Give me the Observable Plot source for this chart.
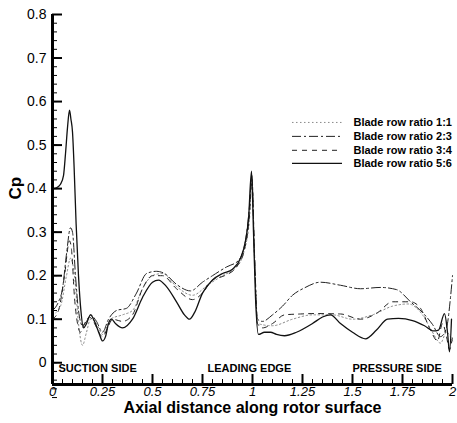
<!DOCTYPE html>
<html>
<head>
<meta charset="utf-8">
<script src="https://cdn.jsdelivr.net/npm/d3@7"></script>
<script src="https://cdn.jsdelivr.net/npm/@observablehq/plot@0.6"></script>
<style>
  html, body { margin: 0; padding: 0; background: #fff; }
  #chart svg { display: block; }
</style>
</head>
<body>
<div id="chart"></div>
<script>
// Pressure coefficient along the rotor surface for four blade row ratios
const seriesNames = ["Blade row ratio 1:1", "Blade row ratio 2:3", "Blade row ratio 3:4", "Blade row ratio 5:6"];

const x11 = [0,0.04,0.07,0.09,0.11,0.13,0.15,0.17,0.19,0.22,0.25,0.29,0.35,0.4,0.45,0.5,0.55,0.62,0.7,0.78,0.85,0.92,0.96,0.985,0.997,1.01,1.025,1.1,1.2,1.3,1.4,1.5,1.6,1.7,1.78,1.85,1.9,1.94,1.97,2.0];
const y11 = [0.11,0.13,0.2,0.24,0.2,0.09,0.04,0.07,0.1,0.09,0.065,0.1,0.11,0.12,0.17,0.2,0.205,0.175,0.155,0.18,0.2,0.22,0.26,0.33,0.42,0.24,0.09,0.085,0.1,0.11,0.11,0.1,0.11,0.13,0.135,0.11,0.07,0.045,0.07,0.05];

const x23 = [0,0.03,0.05,0.07,0.09,0.1,0.115,0.13,0.15,0.17,0.19,0.22,0.25,0.28,0.32,0.37,0.42,0.47,0.52,0.56,0.62,0.69,0.75,0.8,0.87,0.93,0.965,0.985,0.997,1.01,1.025,1.05,1.1,1.15,1.2,1.26,1.34,1.44,1.54,1.64,1.72,1.79,1.855,1.9,1.94,1.97,1.99,2.0];
const y23 = [0.12,0.14,0.17,0.25,0.31,0.3,0.2,0.12,0.085,0.095,0.11,0.095,0.07,0.1,0.12,0.125,0.16,0.205,0.21,0.205,0.18,0.165,0.185,0.2,0.22,0.235,0.28,0.36,0.43,0.25,0.1,0.095,0.11,0.13,0.155,0.172,0.185,0.178,0.17,0.173,0.168,0.14,0.113,0.088,0.06,0.08,0.15,0.2];

const x34 = [0,0.03,0.06,0.085,0.095,0.11,0.125,0.14,0.16,0.185,0.21,0.25,0.28,0.3,0.35,0.4,0.45,0.5,0.55,0.62,0.7,0.75,0.8,0.86,0.92,0.96,0.985,0.997,1.01,1.025,1.05,1.1,1.16,1.24,1.31,1.44,1.54,1.625,1.7,1.79,1.84,1.89,1.925,1.95,1.97,1.985,2.0];
const y34 = [0.1,0.12,0.2,0.28,0.26,0.15,0.09,0.07,0.09,0.105,0.09,0.06,0.085,0.1,0.095,0.11,0.17,0.2,0.2,0.17,0.145,0.16,0.19,0.2,0.22,0.26,0.34,0.42,0.25,0.09,0.08,0.09,0.11,0.112,0.113,0.112,0.1,0.115,0.14,0.14,0.125,0.075,0.05,0.09,0.06,0.03,0.06];

const x56 = [0,0.02,0.04,0.055,0.065,0.075,0.085,0.092,0.1,0.108,0.118,0.13,0.142,0.155,0.17,0.19,0.21,0.235,0.25,0.265,0.28,0.295,0.315,0.35,0.4,0.45,0.5,0.53,0.57,0.62,0.66,0.685,0.71,0.75,0.8,0.85,0.9,0.94,0.965,0.98,0.995,1.005,1.015,1.03,1.06,1.09,1.12,1.16,1.22,1.3,1.35,1.39,1.44,1.5,1.565,1.62,1.675,1.73,1.8,1.86,1.905,1.93,1.96,1.975,1.985,1.995];
const y56 = [0.40,0.402,0.41,0.43,0.48,0.54,0.58,0.56,0.53,0.45,0.32,0.2,0.12,0.08,0.09,0.11,0.095,0.065,0.05,0.06,0.09,0.1,0.09,0.08,0.1,0.15,0.185,0.19,0.175,0.14,0.11,0.1,0.115,0.16,0.19,0.205,0.215,0.24,0.28,0.33,0.44,0.3,0.15,0.065,0.07,0.07,0.065,0.062,0.07,0.09,0.105,0.11,0.09,0.07,0.055,0.075,0.1,0.102,0.097,0.085,0.073,0.075,0.113,0.07,0.025,0.1];

const yTickLabels = [0, 0.1, 0.2, 0.3, 0.4, 0.5, 0.6, 0.7, 0.8];
const xTickLabels = [0, 0.25, 0.5, 0.75, 1, 1.25, 1.5, 1.75, 2];
const regionLabels = ["SUCTION SIDE", "LEADING EDGE", "PRESSURE SIDE"];
const regionStarts = [0.03, 0.775, 1.5];

// line styles, one per series
const styles = [
  {stroke: "#8a8a8a", strokeWidth: 1, strokeDasharray: "1.5,2.5"},
  {stroke: "#222", strokeWidth: 1, strokeDasharray: "9,3,2,3"},
  {stroke: "#222", strokeWidth: 1, strokeDasharray: "5,5"},
  {stroke: "#111", strokeWidth: 1.3, strokeDasharray: null}
];
const xs = [x11, x23, x34, x56];
const ys = [y11, y23, y34, y56];
const tables = xs.map((xv, s) => xv.map((x, i) => ({x, y: ys[s][i]})));

const W = 457, H = 423, mL = 52, mR = 5, mT = 14, mB = 39;
const plotW = W - mL - mR, plotH = H - mT - mB;
const yMinor = d3.range(-4, 40).map(k => k * 0.02);
const xMinor = d3.range(0, 41).map(k => k * 0.05);

// legend placement inside the frame (data units)
const legendRows = [0.552, 0.52, 0.488, 0.458];
const legendLines = seriesNames.map((n, i) => ({y: legendRows[i], x1: 1.2, x2: 1.45}));
const legendText = seriesNames.map((n, i) => ({name: n, y: legendRows[i], x: 1.505}));

const fontFamily = "'Liberation Sans', Arial, Helvetica, sans-serif";

const marks = [];
tables.forEach((t, s) => {
  marks.push(Plot.line(t, {x: "x", y: "y", curve: "monotone-x", ...styles[s]}));
});
styles.forEach((st, s) => {
  marks.push(Plot.ruleY([legendLines[s]], {y: "y", x1: "x1", x2: "x2", ...st}));
});
marks.push(
  Plot.text(legendText, {x: "x", y: "y", text: "name", textAnchor: "start", fontWeight: "bold", fontSize: 11, fill: "#000"}),
  // inward ticks
  Plot.tickY(yTickLabels, {y: d => d, insetRight: plotW - 10, strokeWidth: 2, stroke: "#000"}),
  Plot.tickY(yMinor, {y: d => d, insetRight: plotW - 5, strokeWidth: 1, stroke: "#000"}),
  Plot.tickX(xTickLabels, {x: d => d, insetTop: plotH - 10, strokeWidth: 2, stroke: "#000"}),
  Plot.tickX(xMinor, {x: d => d, insetTop: plotH - 5, strokeWidth: 1, stroke: "#000"}),
  // spines
  Plot.ruleX([0], {stroke: "#000", strokeWidth: 3}),
  Plot.ruleY([-0.05], {stroke: "#000", strokeWidth: 3}),
  Plot.axisY({ticks: yTickLabels, tickSize: 0, tickPadding: 6, tickFormat: d => String(d), fontSize: 14, label: null}),
  Plot.axisX({ticks: xTickLabels, tickSize: 0, tickPadding: 2, tickFormat: d => String(d), fontSize: 13, fontStyle: "italic", label: null}),
  Plot.text(regionLabels.map((t, i) => ({t, x: regionStarts[i]})), {x: "x", y: -0.013, text: "t", textAnchor: "start", fontWeight: "bold", fontSize: 11, fill: "#000"}),
  Plot.text(["Cp"], {text: d => d, frameAnchor: "left", dx: -37, rotate: -90, fontSize: 17, fontWeight: "bold", fill: "#000"}),
  Plot.text(["Axial distance along rotor surface"], {text: d => d, frameAnchor: "bottom", dy: 28, fontSize: 16, fontWeight: "bold", fill: "#000"})
);

const chart = Plot.plot({
  width: W,
  height: H,
  marginLeft: mL,
  marginRight: mR,
  marginTop: mT,
  marginBottom: mB,
  x: {domain: [0, 2]},
  y: {domain: [-0.05, 0.8]},
  style: {fontFamily, background: "#fff", color: "#000", overflow: "visible"},
  marks
});
document.getElementById("chart").appendChild(chart);
</script>
</body>
</html>
